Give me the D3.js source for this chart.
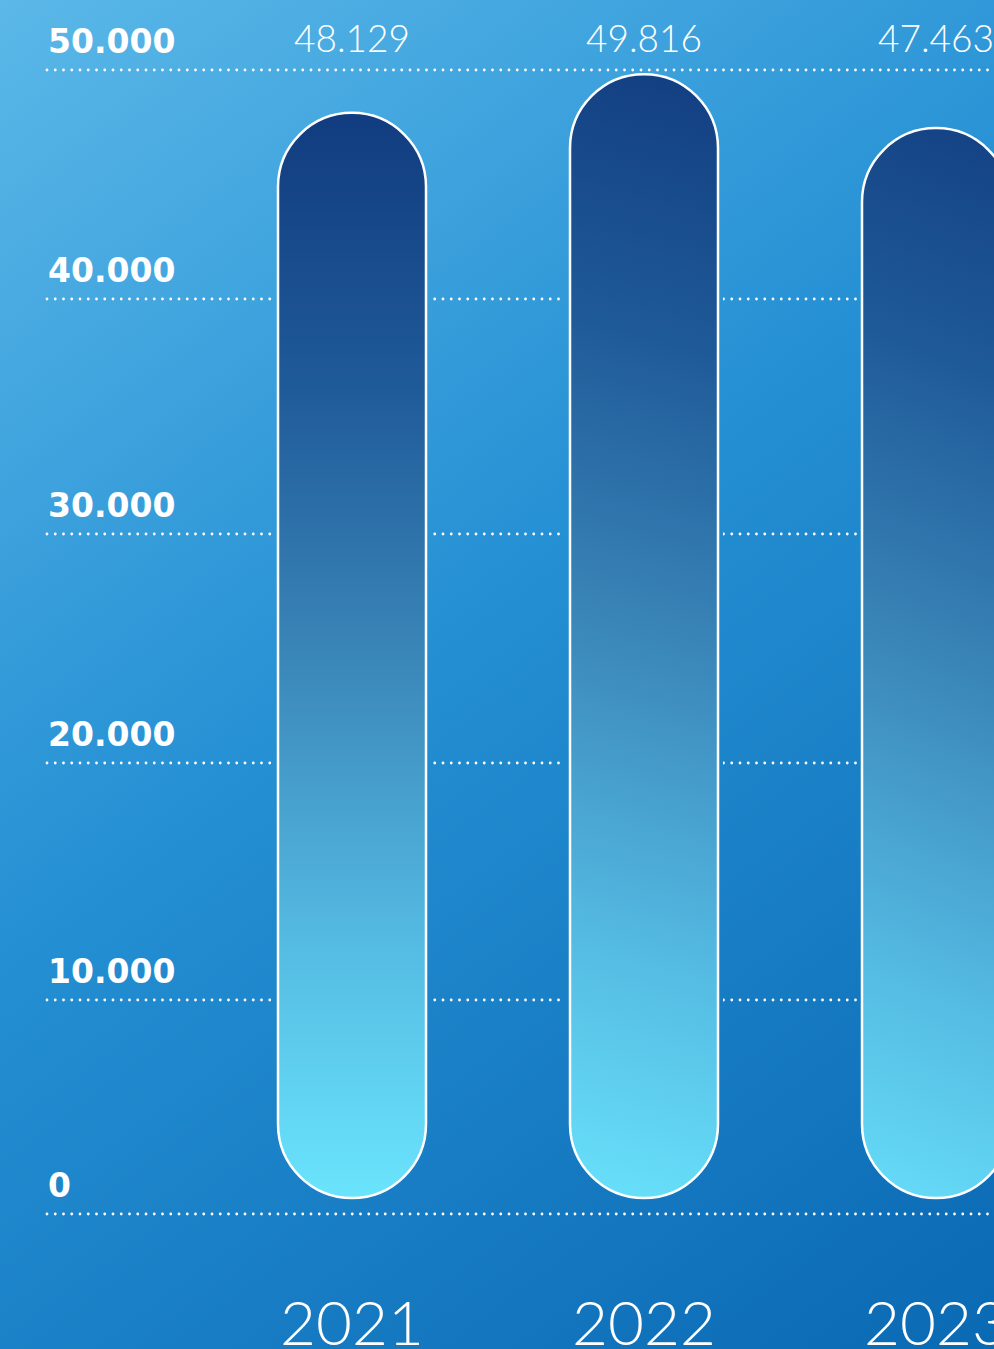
<!DOCTYPE html>
<html>
<head>
<meta charset="utf-8">
<script src="https://cdn.jsdelivr.net/npm/d3@7/dist/d3.min.js"></script>
<style>
  html, body { margin: 0; padding: 0; overflow: hidden; background: #1a86cc; }
  svg { display: block; }
</style>
</head>
<body>
<script>
// ---- data ----
const years = ["2021", "2022", "2023"];
const values = [48129, 49816, 47463];
const valueLabels = ["48.129", "49.816", "47.463"];
const tickValues = [0, 10000, 20000, 30000, 40000, 50000];
const tickLabels = ["0", "10.000", "20.000", "30.000", "40.000", "50.000"];

const W = 994, H = 1349;
const svg = d3.select("body").append("svg").attr("width", W).attr("height", H);
const defs = svg.append("defs");

// background gradient
const bg = defs.append("linearGradient").attr("id", "bg")
  .attr("gradientUnits", "userSpaceOnUse")
  .attr("x1", 0).attr("y1", 0).attr("x2", W).attr("y2", H);
[[0, "#5bb8e8"], [0.45, "#2590d4"], [1, "#0a69b3"]].forEach(([o, c]) =>
  bg.append("stop").attr("offset", o).attr("stop-color", c));
svg.append("rect").attr("width", W).attr("height", H).attr("fill", "url(#bg)");

// scales
const y = d3.scaleLinear()
  .domain(tickValues)
  .range([1214, 1000, 763, 534, 299, 70]);
const x = d3.scalePoint().domain(years).range([352, 936]);
const barW = 148, r = barW / 2, bottomInset = 16;

// gridlines, gapped around bars via mask
const mask = defs.append("mask").attr("id", "gridmask")
  .attr("maskUnits", "userSpaceOnUse").attr("x", 0).attr("y", 0).attr("width", W).attr("height", H);
mask.append("rect").attr("width", W).attr("height", H).attr("fill", "#fff");
years.forEach((yr, i) => {
  mask.append("rect")
    .attr("x", x(yr) - r - 5).attr("width", barW + 10)
    .attr("y", y(values[i])).attr("height", y(0) - bottomInset - y(values[i]))
    .attr("fill", "#000");
});

const grid = svg.append("g").attr("mask", "url(#gridmask)");
grid.selectAll("line").data(tickValues).join("line")
  .attr("x1", 47).attr("x2", W + 10)
  .attr("y1", d => y(d)).attr("y2", d => y(d))
  .attr("stroke", "#ffffff").attr("stroke-width", 2.8)
  .attr("stroke-linecap", "round").attr("stroke-dasharray", "0 8.25");

// axis labels
svg.append("g").selectAll("text").data(tickValues).join("text")
  .attr("x", 48).attr("y", d => y(d) - 17)
  .attr("fill", "#fff")
  .attr("font-family", "'DejaVu Sans', sans-serif")
  .attr("font-weight", "bold").attr("font-size", 33)
  .text((d, i) => tickLabels[i]);

// bar gradients
const tilts = [0, 150, 210];
years.forEach((yr, i) => {
  const top = y(values[i]), bot = y(0) - bottomInset, cx = x(yr);
  const g = defs.append("linearGradient").attr("id", "bar" + i)
    .attr("gradientUnits", "userSpaceOnUse")
    .attr("x1", cx + tilts[i]).attr("y1", top)
    .attr("x2", cx - tilts[i]).attr("y2", bot);
  [[0, "#113c80"], [0.25, "#1f5a98"], [0.5, "#3a86b9"], [0.75, "#53b8e0"], [1, "#6ae4fd"]]
    .forEach(([o, c]) => g.append("stop").attr("offset", o).attr("stop-color", c));
});

// bars (pills)
svg.append("g").selectAll("rect").data(values).join("rect")
  .attr("x", (d, i) => x(years[i]) - r)
  .attr("y", d => y(d))
  .attr("width", barW)
  .attr("height", d => y(0) - bottomInset - y(d))
  .attr("rx", r).attr("ry", r)
  .attr("fill", (d, i) => `url(#bar${i})`)
  .attr("stroke", "#fff").attr("stroke-width", 2.5);

// value labels
svg.append("g").selectAll("text").data(valueLabels).join("text")
  .attr("x", (d, i) => x(years[i]))
  .attr("y", 52)
  .attr("text-anchor", "middle")
  .attr("fill", "#fff")
  .attr("font-family", "Lato, sans-serif")
  .attr("font-weight", 300).attr("font-size", 37)
  .text(d => d);

// year labels
svg.append("g").selectAll("text").data(years).join("text")
  .attr("x", d => x(d))
  .attr("y", 1345)
  .attr("text-anchor", "middle")
  .attr("fill", "#fff")
  .attr("font-family", "Lato, sans-serif")
  .attr("font-weight", 300).attr("font-size", 62)
  .text(d => d);
</script>
</body>
</html>
